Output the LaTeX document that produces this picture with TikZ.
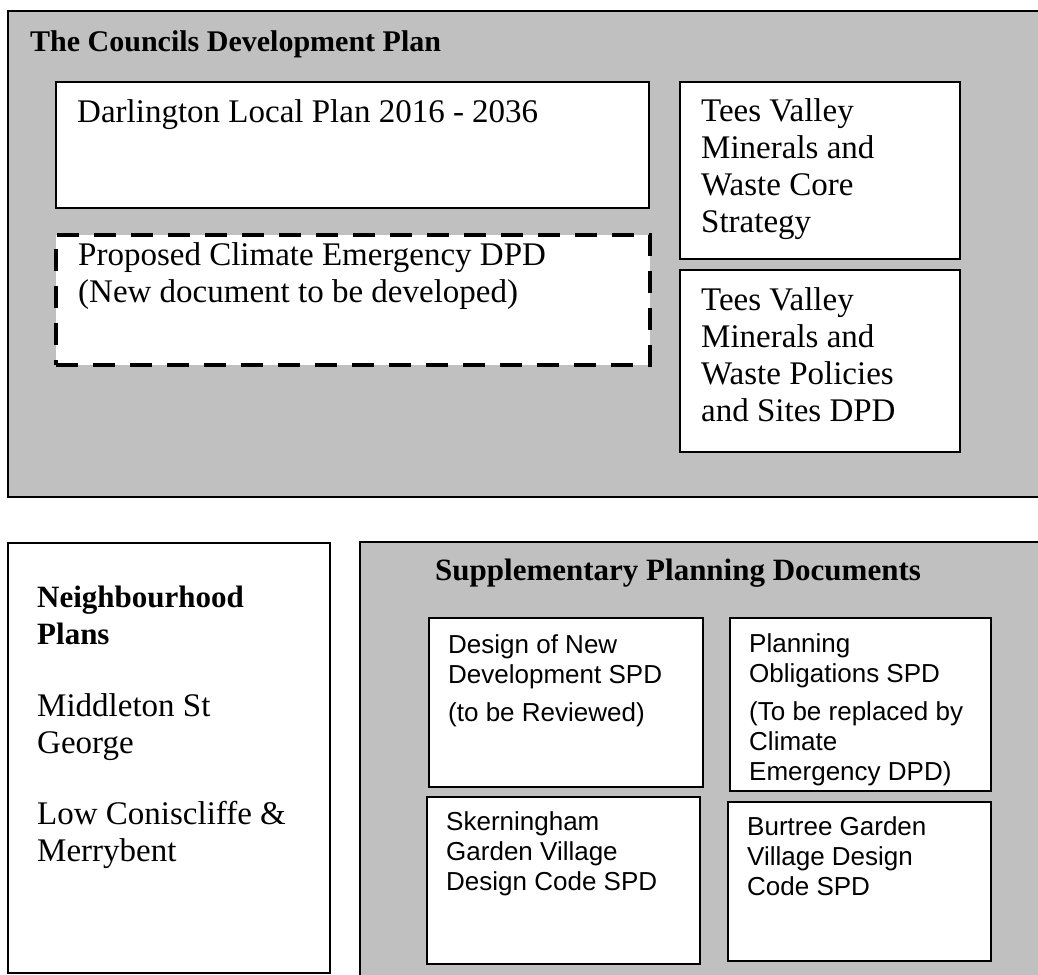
\documentclass[tikz,border=0pt]{standalone}
\usepackage{fontspec}
\setmainfont{Liberation Serif}
\newfontfamily\sansf{Liberation Sans}
\definecolor{panel}{RGB}{192,192,192}
\tikzset{
  panelbox/.style={draw=black, fill=panel, line width=1.6pt, inner sep=0pt, anchor=north west},
  docbox/.style={draw=black, fill=white, line width=1.6pt, inner sep=0pt, anchor=north west},
  newbox/.style={draw=black, fill=white, line width=3.5pt, dash pattern=on 22pt off 15pt, inner sep=0pt, anchor=north west},
  sertext/.style={font=\fontsize{33}{37}\selectfont, inner sep=0pt, anchor=north west, align=left},
  santext/.style={font=\sansf\fontsize{26}{30}\selectfont, inner sep=0pt, anchor=north west, align=left},
  headtext/.style={font=\bfseries\fontsize{31}{37}\selectfont, inner sep=0pt, anchor=base west},
}
\begin{document}
\begin{tikzpicture}[x=1pt,y=-1pt]
\useasboundingbox (0,0) rectangle (1038,974);
\clip (0,0) rectangle (1038,974);

% Development plan panel
\node[panelbox, minimum width=1050pt, minimum height=486pt] (dev) at (7,10) {};
\node[headtext, font=\bfseries\fontsize{30}{37}\selectfont] (devt) at (30,52) {The Councils Development Plan};

\node[docbox, minimum width=593pt, minimum height=126pt] (dlp) at (55,81) {};
\node[sertext, anchor=base west] (dlpt) at (77,122) {Darlington Local Plan 2016 - 2036};

\node[newbox, minimum width=594pt, minimum height=130pt] (ced) at (54,233) {};
\node[sertext] (cedt) at (78,239.1) {\strut Proposed Climate Emergency DPD\\(New document to be developed)};

\node[docbox, minimum width=280pt, minimum height=177pt] (tv1) at (679,81) {};
\node[sertext] (tv1t) at (701,95.1) {\strut Tees Valley\\Minerals and\\Waste Core\\Strategy};

\node[docbox, minimum width=280pt, minimum height=182pt] (tv2) at (679,269) {};
\node[sertext] (tv2t) at (701,284.1) {\strut Tees Valley\\Minerals and\\Waste Policies\\and Sites DPD};

% Neighbourhood plans
\node[docbox, minimum width=322pt, minimum height=430pt] (nhp) at (7,542) {};
\node[sertext] (nhpt) at (37,581.1) {\strut{\bfseries\fontsize{31}{37}\selectfont Neighbourhood}\\{\bfseries\fontsize{31}{37}\selectfont Plans}\\[35pt]Middleton St\\George\\[34pt]Low Coniscliffe \&\\Merrybent};

% Supplementary planning documents panel
\node[panelbox, minimum width=700pt, minimum height=450pt] (spd) at (359,541) {};
\node[headtext] (spdt) at (435,580) {Supplementary Planning Documents};

\node[docbox, minimum width=274pt, minimum height=169pt] (dnd) at (428,617) {};
\node[santext] (dndt) at (448,632) {\strut Design of New\\Development SPD\\[8pt](to be Reviewed)};

\node[docbox, minimum width=261pt, minimum height=173pt] (pob) at (729,617) {};
\node[santext] (pobt) at (749,631) {\strut Planning\\Obligations SPD\\[8pt](To be replaced by\\Climate\\Emergency DPD)};

\node[docbox, minimum width=273pt, minimum height=167pt] (skg) at (426,796) {};
\node[santext] (skgt) at (446,809) {\strut Skerningham\\Garden Village\\Design Code SPD};

\node[docbox, minimum width=263pt, minimum height=159pt] (btg) at (727,801) {};
\node[santext] (btgt) at (747,814) {\strut Burtree Garden\\Village Design\\Code SPD};
\end{tikzpicture}
\end{document}
